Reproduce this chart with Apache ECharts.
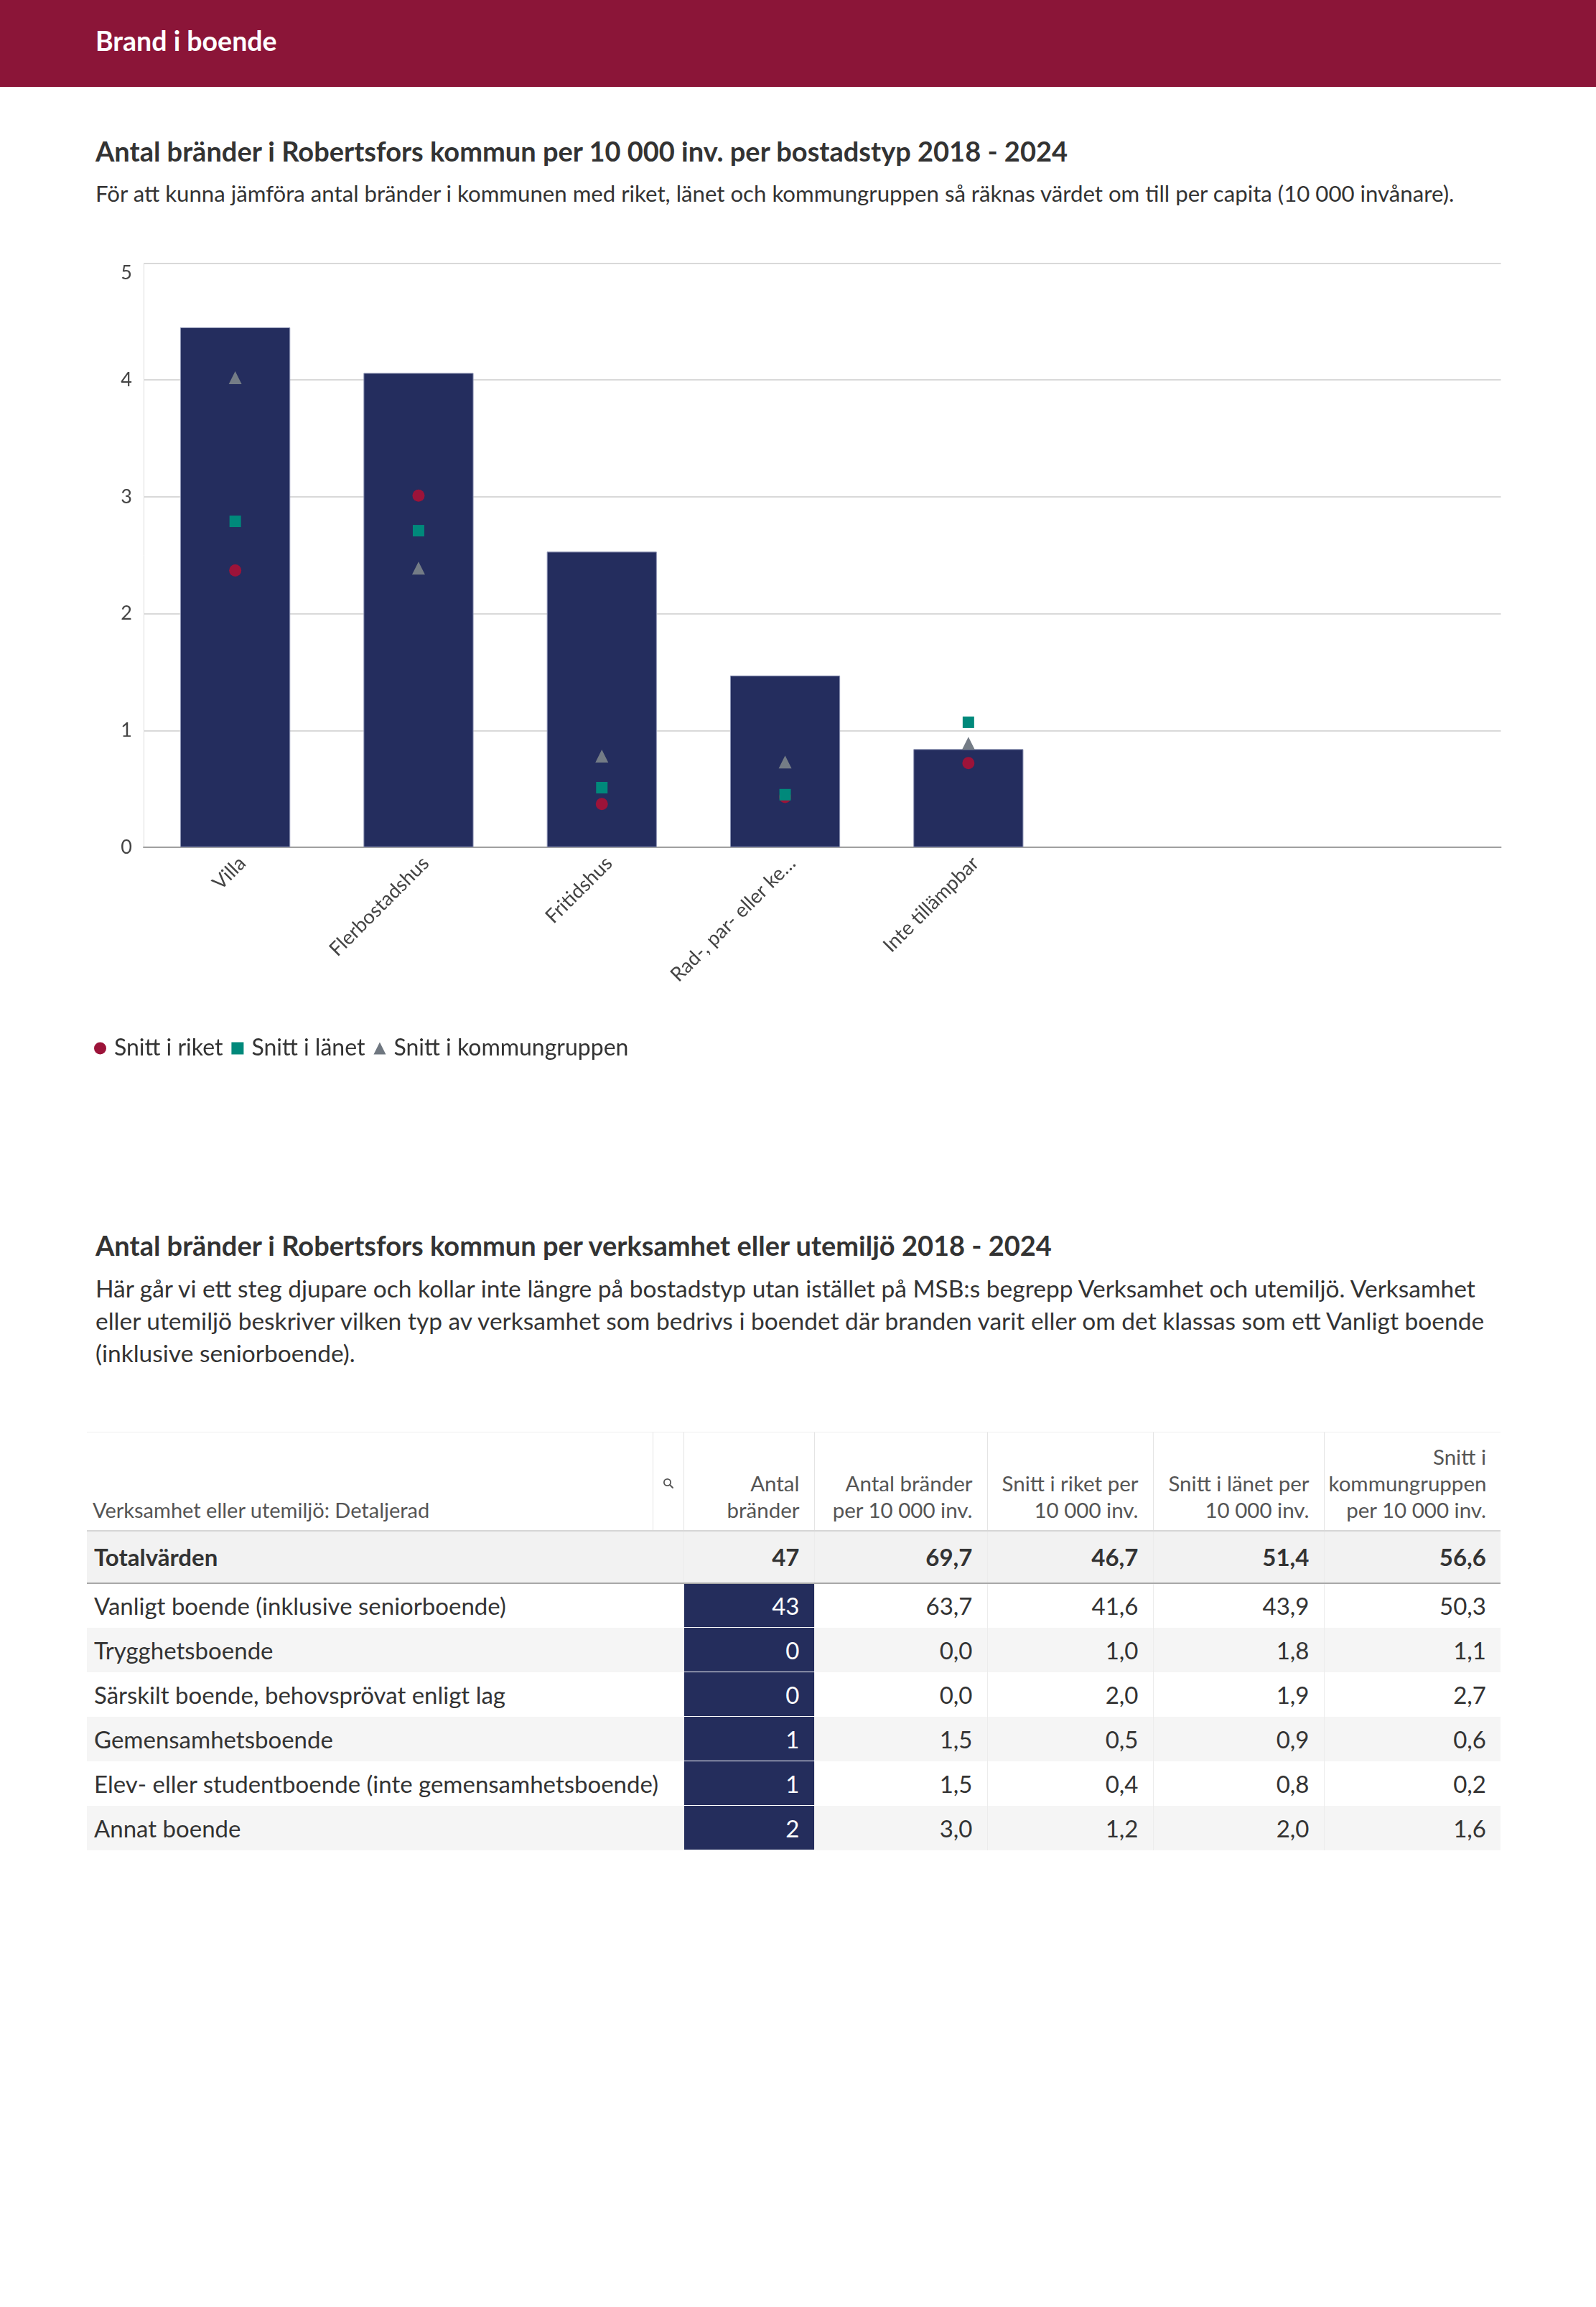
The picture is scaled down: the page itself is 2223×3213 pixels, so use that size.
<!DOCTYPE html>
<html lang="sv">
<head>
<meta charset="utf-8">
<script src="https://cdn.jsdelivr.net/npm/echarts@6/dist/echarts.min.js"></script>
<style>
  html, body { margin: 0; padding: 0; background: #fff; }
  body { width: 2223px; height: 3213px; position: relative; font-family: Lato, "Noto Sans", sans-serif; color: #333; }
  .band { position: absolute; left: 0; top: 0; width: 2223px; height: 121px; background: #8b1538; }
  .band h1 { position: absolute; left: 133px; top: 36px; margin: 0; font-size: 37.5px; line-height: 42px; font-weight: 700; color: #fff; }
  .t { position: absolute; left: 133px; margin: 0; font-weight: 700; font-size: 38px; line-height: 42px; color: #333; white-space: nowrap; }
  .s { position: absolute; left: 133px; margin: 0; font-size: 31.2px; line-height: 38px; color: #333; white-space: nowrap; }
  .p { position: absolute; left: 133px; margin: 0; font-size: 33.5px; line-height: 45px; color: #333; white-space: nowrap; }
  #chart { position: absolute; left: 0; top: 300px; width: 2223px; height: 1220px; }
  table { position: absolute; left: 121px; top: 1994px; border-collapse: collapse; table-layout: fixed; width: 1969px; }
  th { font-weight: 400; font-size: 29.5px; line-height: 37px; color: #555; text-align: right; vertical-align: bottom; padding: 0 20px 10px 6px; height: 137px; box-sizing: border-box; border-left: 1px solid #e4e4e4; border-top: 1px solid #eee; border-bottom: 2px solid #d6d6d6; white-space: nowrap; }
  th.first { text-align: left; border-left: none; padding-left: 8px; font-size: 29px; }
  th.icon { padding: 0; text-align: center; vertical-align: middle; }
  td { font-size: 33px; color: #333; text-align: right; padding: 0 20px 0 10px; height: 62px; box-sizing: border-box; border-left: 1px solid #ececec; white-space: nowrap; }
  td.name { text-align: left; border-left: none; }
  tr.total td { font-weight: 700; background: #f2f2f2; height: 73px; border-bottom: 2px solid #a8a8a8; font-size: 33px; }
  tr.alt td { background: #f5f5f5; }
  td.navy { background: #242d5c !important; color: #fff; border-bottom: 1px solid #fff; }
</style>
</head>
<body>
<div class="band"><h1>Brand i boende</h1></div>
<h2 class="t" style="top:189px">Antal bränder i Robertsfors kommun per 10 000 inv. per bostadstyp 2018 - 2024</h2>
<p class="s" style="top:250px">För att kunna jämföra antal bränder i kommunen med riket, länet och kommungruppen så räknas värdet om till per capita (10 000 invånare).</p>
<div id="chart"></div>
<h2 class="t" style="top:1713px">Antal bränder i Robertsfors kommun per verksamhet eller utemiljö 2018 - 2024</h2>
<p class="p" style="top:1772px">Här går vi ett steg djupare och kollar inte längre på bostadstyp utan istället på MSB:s begrepp Verksamhet och utemiljö. Verksamhet<br>eller utemiljö beskriver vilken typ av verksamhet som bedrivs i boendet där branden varit eller om det klassas som ett Vanligt boende<br>(inklusive seniorboende).</p>
<table id="tbl"></table>
<script>
// ---------- Chart data ----------
const categories = ['Villa', 'Flerbostadshus', 'Fritidshus', 'Rad-, par- eller kedjehus', 'Inte tillämpbar'];
const kommunValues = [4.45, 4.06, 2.53, 1.47, 0.84];
const riketValues = [2.37, 3.01, 0.37, 0.43, 0.72];
const lanetValues = [2.79, 2.71, 0.51, 0.45, 1.07];
const kommungruppValues = [4.02, 2.39, 0.78, 0.73, 0.89];
const yTicks = [0, 1, 2, 3, 4, 5];

// ---------- Table data ----------
const tableHeaders = ['Verksamhet eller utemiljö: Detaljerad', '', 'Antal<br>bränder', 'Antal bränder<br>per 10 000 inv.', 'Snitt i riket per<br>10 000 inv.', 'Snitt i länet per<br>10 000 inv.', 'Snitt i<br>kommungruppen<br>per 10 000 inv.'];
const totalRow = ['Totalvärden', '47', '69,7', '46,7', '51,4', '56,6'];
const rowNames = ['Vanligt boende (inklusive seniorboende)', 'Trygghetsboende', 'Särskilt boende, behovsprövat enligt lag', 'Gemensamhetsboende', 'Elev- eller studentboende (inte gemensamhetsboende)', 'Annat boende'];
const antalBrander = ['43', '0', '0', '1', '1', '2'];
const antalPer10k = ['63,7', '0,0', '0,0', '1,5', '1,5', '3,0'];
const riketPer10k = ['41,6', '1,0', '2,0', '0,5', '0,4', '1,2'];
const lanetPer10k = ['43,9', '1,8', '1,9', '0,9', '0,8', '2,0'];
const kommungruppPer10k = ['50,3', '1,1', '2,7', '0,6', '0,2', '1,6'];

// ---------- Build chart ----------
const chart = echarts.init(document.getElementById('chart'), null, { renderer: 'canvas' });
const gridTop = 66.5, gridH = 813.5, gridLeft = 200, gridW = 1890.5, band = 255.3;
const txt = '#444';
const font = 'Lato, "Noto Sans", sans-serif';

chart.setOption({
  animation: false,
  textStyle: { fontFamily: font },
  grid: [
    { left: gridLeft, top: gridTop, width: gridW, height: gridH, containLabel: false },
    { left: gridLeft, top: gridTop, width: band * categories.length, height: gridH, containLabel: false }
  ],
  xAxis: [
    { gridIndex: 0, type: 'value', min: 0, max: 1, axisLine: { show: true, onZero: false, lineStyle: { color: '#a0a0a0', width: 2 } }, axisTick: { show: false }, axisLabel: { show: false }, splitLine: { show: false } },
    { gridIndex: 1, type: 'category', data: categories, axisLine: { show: false }, axisTick: { show: false }, splitLine: { show: false },
      axisLabel: { rotate: 45, margin: 8, color: txt, fontSize: 27.5, fontFamily: font, interval: 0, verticalAlign: 'top',
        formatter: v => v.length > 20 ? v.slice(0, 19) + '…' : v } }
  ],
  yAxis: [
    { gridIndex: 0, type: 'value', min: 0, max: 5, interval: 1,
      axisLine: { show: true, lineStyle: { color: '#dcdcdc', width: 1 } }, axisTick: { show: false },
      axisLabel: { color: txt, fontSize: 27, margin: 16, fontFamily: font, verticalAlignMaxLabel: 'top',
        formatter: v => yTicks.includes(v) ? String(v) : '' },
      splitLine: { show: true, lineStyle: { color: '#d9d9d9', width: 2 } } },
    { gridIndex: 1, type: 'value', min: 0, max: 5, show: false }
  ],
  legend: {
    left: 126, top: 1139, itemWidth: 17, itemHeight: 17, itemGap: 12,
    textStyle: { color: '#333', fontSize: 32, fontFamily: font, padding: [0, 0, 0, 6] },
    data: [
      { name: 'Snitt i riket', icon: 'circle', itemStyle: { color: '#9c1339' } },
      { name: 'Snitt i länet', icon: 'rect', itemStyle: { color: '#00897b' } },
      { name: 'Snitt i kommungruppen', icon: 'triangle', itemStyle: { color: '#6f7780' } }
    ]
  },
  series: [
    { name: 'Robertsfors', type: 'bar', xAxisIndex: 1, yAxisIndex: 1, data: kommunValues, barWidth: '60%',
      itemStyle: { color: '#242d5e', borderColor: '#8e95b5', borderWidth: 1 }, z: 2 },
    { name: 'Snitt i riket', type: 'scatter', xAxisIndex: 1, yAxisIndex: 1, data: riketValues, symbol: 'circle', symbolSize: 17,
      itemStyle: { color: '#9c1339', opacity: 1 }, z: 5 },
    { name: 'Snitt i länet', type: 'scatter', xAxisIndex: 1, yAxisIndex: 1, data: lanetValues, symbol: 'rect', symbolSize: 16,
      itemStyle: { color: '#00897b', opacity: 1 }, z: 6 },
    { name: 'Snitt i kommungruppen', type: 'scatter', xAxisIndex: 1, yAxisIndex: 1, data: kommungruppValues, symbol: 'triangle', symbolSize: [18, 18],
      itemStyle: { color: '#747c86', opacity: 1 }, z: 4 }
  ]
});

// ---------- Build table ----------
const colWidths = [788, 43, 182, 241, 231, 238, 246];
let html = '<colgroup>' + colWidths.map(w => `<col style="width:${w}px">`).join('') + '</colgroup>';
html += '<tr>' + tableHeaders.map((h, i) => {
  if (i === 0) return `<th class="first">${h}</th>`;
  if (i === 1) return `<th class="icon"><svg width="16" height="16" viewBox="0 0 16 16"><circle cx="6.5" cy="6.5" r="4.6" fill="none" stroke="#555" stroke-width="1.8"/><line x1="10" y1="10" x2="14" y2="14" stroke="#555" stroke-width="2" stroke-linecap="round"/></svg></th>`;
  return `<th>${h}</th>`;
}).join('') + '</tr>';
html += '<tr class="total"><td class="name" colspan="2">' + totalRow[0] + '</td>' + totalRow.slice(1).map(v => `<td>${v}</td>`).join('') + '</tr>';
rowNames.forEach((n, i) => {
  html += `<tr class="${i % 2 === 1 ? 'alt' : ''}"><td class="name" colspan="2">${n}</td><td class="navy">${antalBrander[i]}</td><td>${antalPer10k[i]}</td><td>${riketPer10k[i]}</td><td>${lanetPer10k[i]}</td><td>${kommungruppPer10k[i]}</td></tr>`;
});
document.getElementById('tbl').innerHTML = html;
</script>
</body>
</html>
